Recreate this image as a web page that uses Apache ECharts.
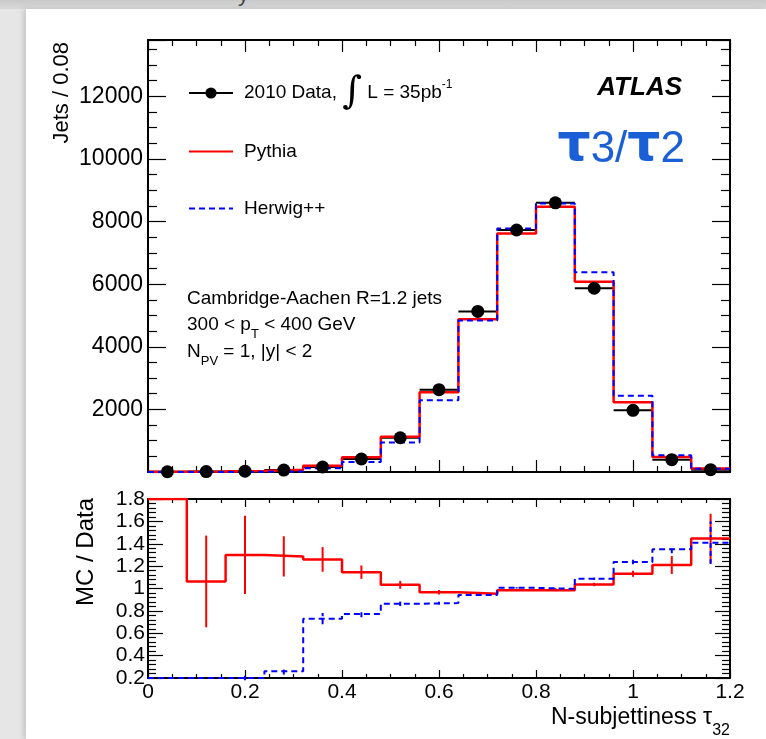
<!DOCTYPE html>
<html><head><meta charset="utf-8">
<script src="https://cdn.jsdelivr.net/npm/echarts@6/dist/echarts.min.js"></script>
<style>
html,body{margin:0;padding:0;width:766px;height:739px;overflow:hidden;background:#e6e6e6;}
#band{position:absolute;left:0;top:0;width:766px;height:9px;background:linear-gradient(#c9c9c9,#d9d9d9);}
#cut{position:absolute;left:238px;top:-19px;font:22px 'Liberation Sans',Arial,sans-serif;color:#444;}
#chart{position:absolute;left:26px;top:9px;width:740px;height:730px;background:#fff;box-shadow:-3px 0 5px rgba(0,0,0,0.13);}
</style></head><body>
<div id="band"></div><div id="cut">y</div><div id="chart"></div>
<script>
// ---- data ----
const binEdges = [0, 0.08, 0.16, 0.24, 0.32, 0.40, 0.48, 0.56, 0.64, 0.72, 0.80, 0.88, 0.96, 1.04, 1.12, 1.20];
const dataCounts    = [8, 12, 25, 60, 160, 415, 1095, 2630, 5130, 7730, 8600, 5870, 1970, 395, 75];
const pythiaCounts  = [5, 13, 32, 75, 200, 475, 1130, 2545, 4880, 7615, 8470, 6080, 2230, 480, 108];
const herwigCounts  = [0, 0, 5, 16, 117, 320, 945, 2290, 4840, 7775, 8575, 6380, 2435, 535, 106];
const pythiaRatio    = [1.80, 1.063, 1.30, 1.287, 1.26, 1.146, 1.033, 0.967, 0.952, 0.985, 0.985, 1.036, 1.131, 1.21, 1.448];
const pythiaRatioErr = [0, 0.41, 0.35, 0.18, 0.11, 0.06, 0.035, 0.02, 0.012, 0.008, 0.008, 0.015, 0.027, 0.08, 0.22];
const herwigRatio    = [0.2, 0.2, 0.2, 0.26, 0.73, 0.773, 0.863, 0.87, 0.943, 1.006, 0.997, 1.087, 1.236, 1.35, 1.41];
const herwigRatioErr = [0, 0, 0.02, 0.03, 0.05, 0.03, 0.02, 0.012, 0.008, 0.006, 0.006, 0.01, 0.02, 0.035, 0.19];
const xTicks = {min: 0, max: 1.2, interval: 0.2};
const yTopTicks = {min: 0, max: 13800, interval: 2000};
const yRatioTicks = {min: 0.2, max: 1.8, interval: 0.2};

const F = "'Liberation Sans', Arial, Helvetica, sans-serif";
const nb = dataCounts.length;
const centers = binEdges.slice(0, nb).map((e, i) => (e + binEdges[i + 1]) / 2);
function stepData(vals) {
  const d = binEdges.slice(0, nb).map((e, i) => [e, vals[i]]);
  d.push([binEdges[nb], vals[nb - 1]]);
  return d;
}

function xAxisCfg(grid, pos, labels, tickLen, minorLen) {
  return {
    type: 'value', gridIndex: grid, position: pos, min: xTicks.min, max: xTicks.max, interval: xTicks.interval,
    splitLine: {show: false},
    axisLine: {show: true, onZero: false, lineStyle: {color: '#000', width: 2}},
    axisTick: {show: true, inside: true, length: tickLen, lineStyle: {color: '#000', width: 1.2}},
    minorTick: {show: true, splitNumber: 4, length: minorLen, lineStyle: {color: '#000', width: 1.2}},
    axisLabel: {show: labels, margin: 4, fontSize: 21, fontFamily: F, color: '#000',
      formatter: v => String(Math.round(v * 10) / 10)}
  };
}
function yAxisCfg(grid, pos, labels, t, tickLen, minorLen, minorSplit, fs, extra) {
  return Object.assign({
    type: 'value', gridIndex: grid, position: pos, min: t.min, max: t.max, interval: t.interval,
    splitLine: {show: false},
    axisLine: {show: true, onZero: false, lineStyle: {color: '#000', width: 2}},
    axisTick: {show: true, inside: true, length: tickLen, lineStyle: {color: '#000', width: 1.2}},
    minorTick: {show: true, splitNumber: minorSplit, length: minorLen, lineStyle: {color: '#000', width: 1.2}},
    axisLabel: {show: labels, margin: 5, fontSize: fs, fontFamily: F, color: '#000'}
  }, extra || {});
}

function hErr(color, width) {
  return function (params, api) {
    const p1 = api.coord([api.value(0), api.value(2)]);
    const p2 = api.coord([api.value(1), api.value(2)]);
    return {type: 'line', shape: {x1: p1[0], y1: p1[1], x2: p2[0], y2: p2[1]},
      style: {stroke: color, lineWidth: width}};
  };
}
function vErr(color, width, dash) {
  return function (params, api) {
    const p1 = api.coord([api.value(0), api.value(1)]);
    const p2 = api.coord([api.value(0), api.value(2)]);
    return {type: 'line', shape: {x1: p1[0], y1: p1[1], x2: p2[0], y2: p2[1]},
      style: {stroke: color, lineWidth: width, lineDash: dash || null}};
  };
}

const chart = echarts.init(document.getElementById('chart'), null, {renderer: 'canvas'});
const main = {fontSize: 19, fontFamily: F, fill: '#000', lineHeight: 20, verticalAlign: 'top'};
const sub = {fontSize: 13, fontFamily: F, fill: '#000', lineHeight: 13, verticalAlign: 'top', padding: [13, 0, 0, 0]};

const option = {
  animation: false,
  backgroundColor: '#fff',
  grid: [
    {left: 122, top: 31, width: 582, height: 432},
    {left: 122, top: 490, width: 582, height: 179}
  ],
  xAxis: [
    xAxisCfg(0, 'bottom', false, 12, 6),
    xAxisCfg(0, 'top', false, 12, 6),
    xAxisCfg(1, 'bottom', true, 8, 4),
    xAxisCfg(1, 'top', false, 8, 4)
  ],
  yAxis: [
    yAxisCfg(0, 'left', true, yTopTicks, 18, 9, 4, 23, {axisLabel: {show: true, margin: 5, fontSize: 23, fontFamily: F, color: '#000', showMinLabel: false, showMaxLabel: false, formatter: v => String(Math.round(v))}}),
    yAxisCfg(0, 'right', false, yTopTicks, 18, 9, 4, 23),
    yAxisCfg(1, 'left', true, yRatioTicks, 15, 8, 5, 21, {axisLabel: {show: true, margin: 3, fontSize: 21, fontFamily: F, color: '#000', formatter: v => String(Math.round(v * 10) / 10)}}),
    yAxisCfg(1, 'right', false, yRatioTicks, 15, 8, 5, 21)
  ],
  legend: [
    {left: 162, top: 64, orient: 'vertical', padding: 0, itemWidth: 44, itemHeight: 14, selectedMode: false,
      data: ['2010 Data'],
      formatter: () => '{a|2010 Data, }{i|∫}{a| L = 35pb}{s|-1}',
      lineStyle: {color: '#000', width: 2, opacity: 1, type: 'solid'},
      itemStyle: {color: '#000', opacity: 1},
      textStyle: {padding: [0, 0, 0, 6], rich: {
        a: {fontSize: 19, fontFamily: F, color: '#000', verticalAlign: 'middle', lineHeight: 20},
        i: {fontSize: 38, fontFamily: "'DejaVu Serif', serif", color: '#000', verticalAlign: 'middle', lineHeight: 40},
        s: {fontSize: 12, fontFamily: F, color: '#000', verticalAlign: 'top', lineHeight: 12, padding: [6, 0, 0, 0]}
      }}},
    {left: 162, top: 133, orient: 'vertical', padding: 0, itemWidth: 44, itemHeight: 14, selectedMode: false,
      data: ['Pythia'], itemStyle: {opacity: 0},
      textStyle: {fontSize: 19, fontFamily: F, color: '#000', lineHeight: 14, padding: [0, 0, 0, 6]}},
    {left: 162, top: 190, orient: 'vertical', padding: 0, itemWidth: 44, itemHeight: 14, selectedMode: false,
      data: ['Herwig++'], itemStyle: {opacity: 0},
      textStyle: {fontSize: 19, fontFamily: F, color: '#000', lineHeight: 14, padding: [0, 0, 0, 6]}}
  ],
  series: [
    {name: 'Pythia', type: 'line', xAxisIndex: 0, yAxisIndex: 0, step: 'end', symbol: 'none',
      lineStyle: {color: '#ff0000', width: 2.5}, itemStyle: {color: '#ff0000'}, data: stepData(pythiaCounts)},
    {name: 'Herwig++', type: 'line', xAxisIndex: 0, yAxisIndex: 0, step: 'end', symbol: 'none',
      lineStyle: {color: '#0000ff', width: 2, type: [6, 4]}, itemStyle: {color: '#0000ff'}, data: stepData(herwigCounts)},
    {name: 'dataErr', type: 'custom', xAxisIndex: 0, yAxisIndex: 0, renderItem: hErr('#000', 2),
      encode: {x: [0, 1], y: 2},
      data: dataCounts.map((v, i) => [binEdges[i], binEdges[i + 1], v])},
    {name: '2010 Data', type: 'line', xAxisIndex: 0, yAxisIndex: 0, symbol: 'circle', symbolSize: 13,
      showSymbol: true, itemStyle: {color: '#000'}, lineStyle: {width: 0, opacity: 0},
      data: centers.map((c, i) => [c, dataCounts[i]])},
    {name: 'Pythia / Data', type: 'line', xAxisIndex: 2, yAxisIndex: 2, step: 'end', symbol: 'none',
      lineStyle: {color: '#ff0000', width: 2.5}, data: stepData(pythiaRatio)},
    {name: 'Pythia / Data err', type: 'custom', xAxisIndex: 2, yAxisIndex: 2, renderItem: vErr('#ff0000', 2),
      encode: {x: 0, y: [1, 2]},
      data: pythiaRatio.map((v, i) => [centers[i], v - pythiaRatioErr[i], v + pythiaRatioErr[i]]).filter((d, i) => pythiaRatioErr[i] > 0)},
    {name: 'Herwig / Data', type: 'line', xAxisIndex: 2, yAxisIndex: 2, step: 'end', symbol: 'none',
      lineStyle: {color: '#0000ff', width: 2, type: [6, 4]}, data: stepData(herwigRatio)},
    {name: 'Herwig / Data err', type: 'custom', xAxisIndex: 2, yAxisIndex: 2, renderItem: vErr('#0000ff', 2, [5, 3]),
      encode: {x: 0, y: [1, 2]},
      data: herwigRatio.map((v, i) => [centers[i], v - herwigRatioErr[i], v + herwigRatioErr[i]]).filter((d, i) => herwigRatioErr[i] > 0)}
  ],
  graphic: [
    {type: 'text', x: 36, y: 33, rotation: Math.PI / 2, z: 10,
      style: {text: 'Jets / 0.08', align: 'right', verticalAlign: 'middle', fontSize: 22, fontFamily: F, fill: '#000'}},
    {type: 'text', x: 60, y: 489, rotation: Math.PI / 2, z: 10,
      style: {text: 'MC / Data', align: 'right', verticalAlign: 'middle', fontSize: 24, fontFamily: F, fill: '#000'}},
    {type: 'text', x: 704, y: 697, z: 10,
      style: {text: '{m|N-subjettiness τ}{s|32}', align: 'right', verticalAlign: 'top',
        rich: {m: {fontSize: 23, fontFamily: F, fill: '#000', lineHeight: 24, verticalAlign: 'top'},
               s: {fontSize: 16, fontFamily: F, fill: '#000', lineHeight: 16, verticalAlign: 'top', padding: [17, 0, 0, 0]}}}},
    {type: 'text', x: 656, y: 79, z: 10,
      style: {text: 'ATLAS', align: 'right', verticalAlign: 'middle', fontSize: 26, fontWeight: 'bold', fontStyle: 'italic', fontFamily: F, fill: '#000'}},
    {type: 'text', x: 659, y: 137, z: 10,
      style: {text: '{t|τ}{d|3}{d|/}{t|τ}{d|2}', align: 'right', verticalAlign: 'middle',
        rich: {t: {fontSize: 52, fontWeight: 'bold', fontFamily: "'DejaVu Sans', sans-serif", fill: '#1a5fd6', verticalAlign: 'bottom', lineHeight: 52},
               d: {fontSize: 44, fontFamily: F, fill: '#1a5fd6', verticalAlign: 'bottom', lineHeight: 46}}}},
    {type: 'text', x: 161, y: 280, z: 10,
      style: {text: '{m|Cambridge-Aachen R=1.2 jets}', rich: {m: main}}},
    {type: 'text', x: 161, y: 306, z: 10,
      style: {text: '{m|300 < p}{s|T}{m| < 400 GeV}', rich: {m: main, s: sub}}},
    {type: 'text', x: 161, y: 333, z: 10,
      style: {text: '{m|N}{s|PV}{m| = 1, |y| < 2}', rich: {m: main, s: sub}}}
  ]
};
chart.setOption(option);
</script>
</body></html>
